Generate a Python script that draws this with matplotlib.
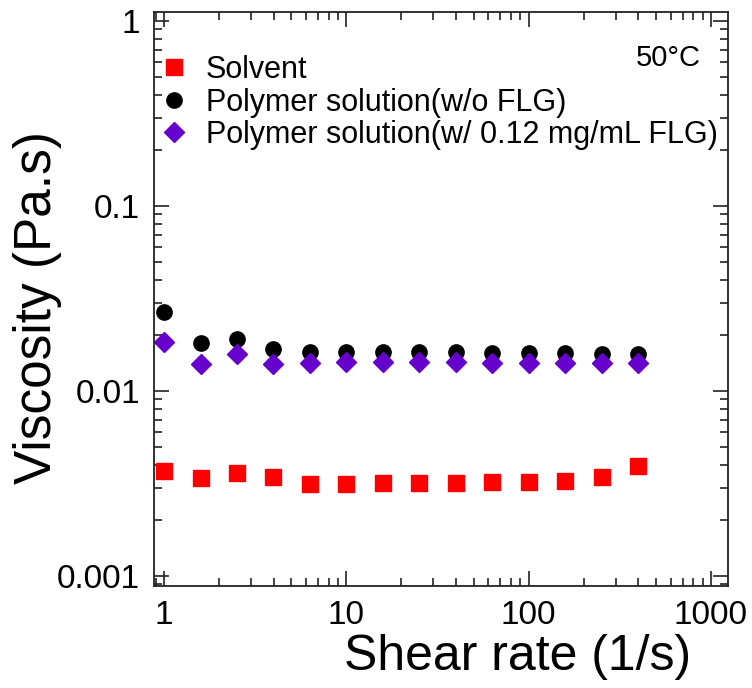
import matplotlib
matplotlib.use("Agg")
import matplotlib.pyplot as plt
from matplotlib.ticker import LogLocator, NullFormatter, FixedLocator, FixedFormatter

plt.rcParams['font.family'] = ['Liberation Sans', 'DejaVu Sans']

shear_rate = [1.0, 1.585, 2.512, 3.981, 6.310, 10.0, 15.85, 25.12, 39.81, 63.10, 100.0, 158.5, 251.2, 398.1]
solvent = [0.00371, 0.00337, 0.00359, 0.00342, 0.00315, 0.00314, 0.00318, 0.00318, 0.00319,
           0.00321, 0.00321, 0.00327, 0.00344, 0.00395]
polymer_wo = [0.0268, 0.0181, 0.0191, 0.0168, 0.0163, 0.0163, 0.0162, 0.0162, 0.0162,
              0.0161, 0.0160, 0.0160, 0.0159, 0.0158]
polymer_w = [0.0183, 0.0140, 0.0158, 0.0140, 0.0142, 0.0143, 0.0143, 0.0143, 0.0143,
             0.0142, 0.0142, 0.0142, 0.0142, 0.0142]

labels = ["Solvent", "Polymer solution(w/o FLG)", "Polymer solution(w/ 0.12 mg/mL FLG)"]
yticks = [0.001, 0.01, 0.1, 1]
ytick_labels = ["0.001", "0.01", "0.1", "1"]
xticks = [1, 10, 100, 1000]
xtick_labels = ["1", "10", "100", "1000"]

fig = plt.figure(figsize=(7.52, 6.88), dpi=100)
ax = fig.add_axes([0.2048, 0.1487, 0.9677 - 0.2048, 0.983 - 0.1487])

ax.plot(shear_rate, solvent, ls='none', marker='s', ms=11.5, color='#ff0000', label=labels[0])
ax.plot(shear_rate, polymer_wo, ls='none', marker='o', ms=11.0, color='black', label=labels[1])
ax.plot(shear_rate, polymer_w, ls='none', marker='D', ms=10.2, color='#6600cc', label=labels[2])

ax.set_xscale('log')
ax.set_yscale('log')
ax.set_xlim(0.881, 1235)
ax.set_ylim(0.000886, 1.123)

ax.xaxis.set_major_locator(FixedLocator(xticks))
ax.xaxis.set_major_formatter(FixedFormatter(xtick_labels))
ax.yaxis.set_major_locator(FixedLocator(yticks))
ax.yaxis.set_major_formatter(FixedFormatter(ytick_labels))
ax.xaxis.set_minor_locator(LogLocator(base=10, subs=range(2, 10), numticks=20))
ax.yaxis.set_minor_locator(LogLocator(base=10, subs=range(2, 10), numticks=20))
ax.xaxis.set_minor_formatter(NullFormatter())
ax.yaxis.set_minor_formatter(NullFormatter())

ax.tick_params(which='both', direction='in', top=True, right=True, width=1.2, colors='#222222',
               labelcolor='black')
ax.tick_params(which='major', length=11, labelsize=24, pad=10)
ax.tick_params(which='minor', length=6)
for s in ax.spines.values():
    s.set_linewidth(1.3)
    s.set_color('#222222')

ax.set_xlabel("Shear rate (1/s)", fontsize=36)
ax.xaxis.set_label_coords(0.633, -0.085)
ax.set_ylabel("Viscosity (Pa.s)", fontsize=37)
ax.yaxis.set_label_coords(-0.16, 0.484)

ax.legend(loc='upper left', bbox_to_anchor=(-0.003, 0.935), frameon=False, fontsize=22,
          handletextpad=0.55, labelspacing=0.08, borderaxespad=0, handlelength=1.0,
          borderpad=0.2)
ax.text(0.896, 0.92, "50°C", transform=ax.transAxes, fontsize=21, ha='center', va='center')

fig.savefig("out.png", dpi=100)
